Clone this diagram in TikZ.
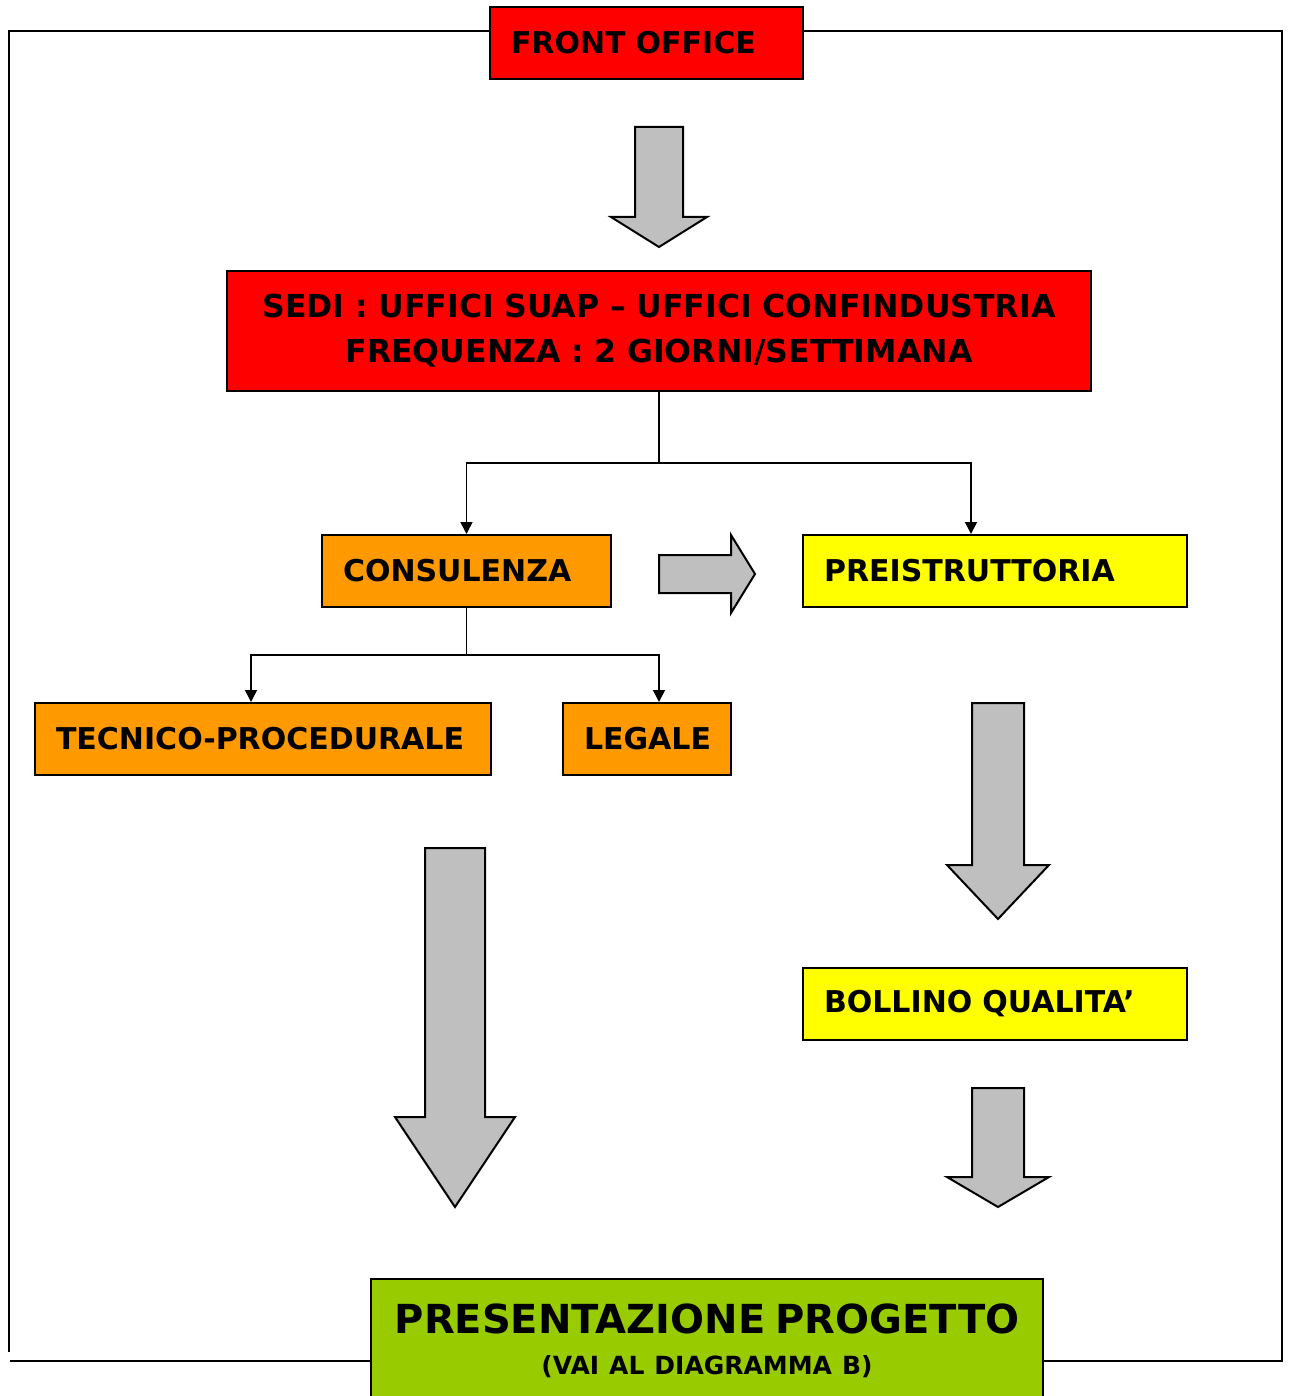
\documentclass[tikz,border=0pt]{standalone}
\usepackage{fontspec}
\setmainfont{DejaVu Sans}
\usepackage{tikz}
\usetikzlibrary{arrows.meta}
\usetikzlibrary{positioning}
\definecolor{boxred}{rgb}{1,0,0}
\definecolor{boxorange}{rgb}{1,0.6,0}
\definecolor{boxyellow}{rgb}{1,1,0}
\definecolor{boxgreen}{rgb}{0.6,0.8,0}
\definecolor{arrowgrey}{rgb}{0.75,0.75,0.75}
\tikzset{
  box/.style={draw, line width=1pt, inner xsep=10.5pt, inner ysep=0pt,
    minimum height=36pt, align=left, font=\bfseries\fontsize{15}{22.5}\selectfont},
  conn/.style={line width=0.8pt, -{Triangle[length=6pt,width=6pt]}},
  frame/.style={line width=1pt},
  blockarrow/.style={fill=arrowgrey, draw, line width=1pt, line join=miter}
}

\begin{document}
\begin{tikzpicture}[x=0.5pt, y=-0.5pt]
  \useasboundingbox (0, 0) rectangle (1290, 1396);

  % outer frame
  \draw[frame] (490, 31) -- (9, 31) -- (9, 1352);
  \draw[frame] (803, 31) -- (1282, 31) -- (1282, 1361) -- (1043, 1361);
  \draw[frame] (10, 1361) -- (371, 1361);

  % boxes
  \node[box, fill=boxred, text width=135.5pt] (front) at (646.5, 43) {FRONT OFFICE};
  \node[box, fill=boxred, text width=411pt, minimum height=60pt, align=center,
    font=\bfseries\fontsize{15.8}{22.5}\selectfont]
    (sedi) at (659, 331) {SEDI : UFFICI SUAP -- UFFICI CONFINDUSTRIA\\FREQUENZA : 2 GIORNI/SETTIMANA};
  \node[box, fill=boxorange, text width=123.5pt] (consul) at (466.5, 571) {CONSULENZA};
  \node[box, fill=boxyellow, text width=171pt] (preis) at (995, 571) {PREISTRUTTORIA};
  \node[box, fill=boxorange, text width=207pt] (tecnico) at (263, 739) {TECNICO-PROCEDURALE};
  \node[box, fill=boxorange, text width=63pt] (legale) at (647, 739) {LEGALE};
  \node[box, fill=boxyellow, text width=171pt] (bollino) at (995, 1004) {BOLLINO QUALITA’};
  \node[box, fill=boxgreen, text width=315pt, minimum height=62pt, align=center]
    (present) at (707, 1341)
    {{\fontsize{20}{24}\selectfont PRESENTAZIONE PROGETTO}\\[-2pt]
     {\fontsize{12.5}{15}\selectfont (VAI AL DIAGRAMMA B)}};

  % connectors
  \coordinate (split1) at (659, 463);
  \coordinate (split2) at (466.5, 655);
  \draw[line width=0.8pt] (sedi.south) -- (split1);
  \draw[conn] (split1) -| (consul.north);
  \draw[conn] (split1) -| ([xshift=-12pt]preis.north);
  \draw[line width=0.8pt] (consul.south) -- (split2);
  \draw[conn] (split2) -| ([xshift=-6pt]tecnico.north);
  \draw[conn] (split2) -| ([xshift=6pt]legale.north);

  % grey block arrows
  \foreach \cx/\top/\hs/\tip/\sw/\hw in {659/127/217/247/24/48,
      455/848/1117/1207/30/60, 998/703/865/919/26/51, 998/1088/1177/1207/26/51} {
    \filldraw[blockarrow] ({\cx-\sw}, \top) -- ({\cx+\sw}, \top) -- ({\cx+\sw}, \hs)
      -- ({\cx+\hw}, \hs) -- (\cx, \tip) -- ({\cx-\hw}, \hs) -- ({\cx-\sw}, \hs) -- cycle;
  }
  \filldraw[blockarrow] (659, 555) -- (731, 555) -- (731, 535) -- (755, 574)
    -- (731, 613) -- (731, 593) -- (659, 593) -- cycle;
\end{tikzpicture}
\end{document}
